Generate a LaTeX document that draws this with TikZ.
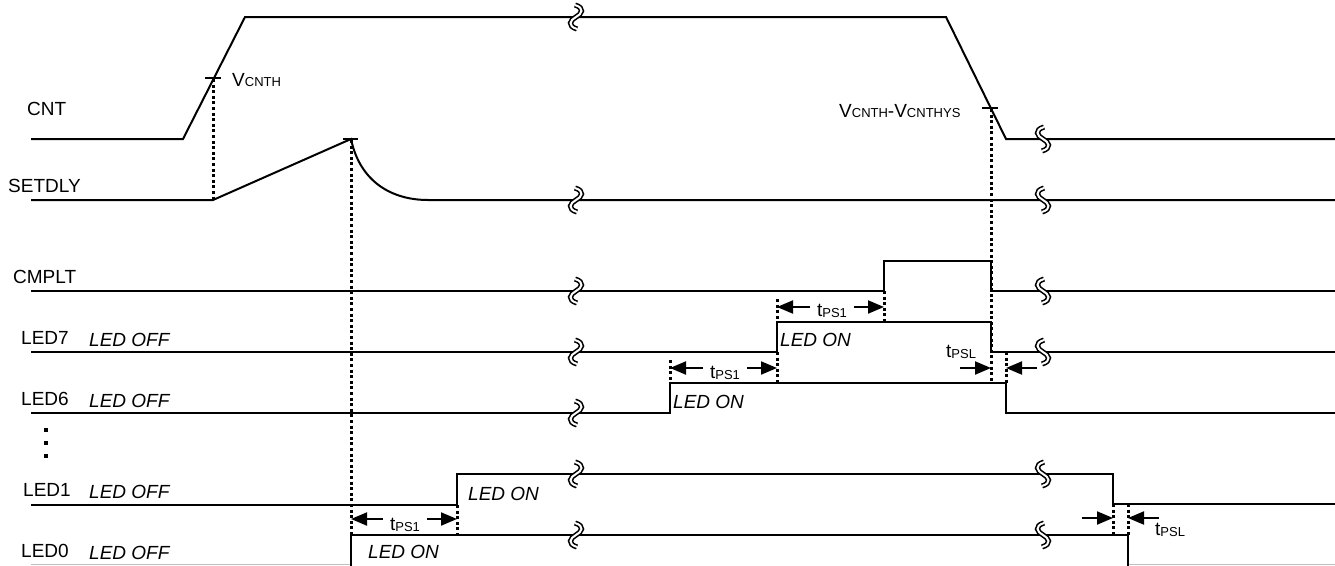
\documentclass[tikz,border=0pt]{standalone}
\usepackage{fontspec}
\setmainfont{Liberation Sans}
\usetikzlibrary{arrows.meta}
\newcommand\mysub[1]{\raisebox{-1.5pt}{\fontsize{13}{13}\selectfont #1}}
\newcommand\mysubL[1]{\raisebox{-1.5pt}{\fontsize{13}{13}\selectfont #1}}
\newcommand\vsub[1]{{\fontsize{13}{13}\selectfont #1}}
\begin{document}
\begin{tikzpicture}[x=1pt,y=-1pt,
 sig/.style={line width=2pt},
 faint/.style={line width=1pt,black!25},
 dotv/.style={line width=3pt,dash pattern=on 3pt off 2.6pt},
 tickln/.style={line width=2pt},
 lbl/.style={anchor=base west,inner sep=0pt,font=\fontsize{19}{19}\selectfont},
 ital/.style={anchor=base west,inner sep=0pt,font=\fontsize{19}{19}\selectfont\itshape},
 vlab/.style={anchor=base west,inner sep=0pt,font=\fontsize{19}{19}\selectfont},
 tlab/.style={anchor=base,inner xsep=7pt,inner ysep=0pt,font=\fontsize{19}{19}\selectfont},
 slab/.style={anchor=base west,inner sep=0pt,font=\fontsize{19}{19}\selectfont},
 tm/.style={line width=2pt,-{Triangle[length=16pt,width=13pt]}},
 brk/.style={line width=1.6pt,double,double distance=2pt},
 pics/brkA/.style={code={\draw[brk] (-1,-12) .. controls (9,-9) and (6,-3) .. (0,0) .. controls (-6,3) and (-9,9) .. (1,12);}},
 pics/brkB/.style={code={\draw[brk] (1,-12) .. controls (-9,-9) and (-6,-3) .. (0,0) .. controls (6,3) and (9,9) .. (-1,12);}},
]
\useasboundingbox (0,0) rectangle (1335,565);

% signals
\draw[sig] (31,139) -- (183,139) -- (245,17) -- (946,17) -- (1006,139) -- (1335,139);
\draw[sig] (31,200) -- (213,200) -- (351,139) .. controls (360,182) and (392,200) .. (428,200) -- (1335,200);
\draw[sig] (31,291) -- (884,291) -- (884,261) -- (991,261) -- (991,291) -- (1335,291);
\draw[sig] (31,352) -- (777,352) -- (777,322) -- (991,322) -- (991,352) -- (1335,352);
\draw[sig] (31,413) -- (670,413) -- (670,383) -- (1006,383) -- (1006,413) -- (1335,413);
\draw[sig] (31,505) -- (457,505) -- (457,474) -- (1113,474) -- (1113,504) -- (1335,504);
\draw[sig] (351,566) -- (351,535) -- (1128,535) -- (1128,566);
\draw[faint] (31,564) -- (350,564);
\draw[faint] (1129,564) -- (1335,564);

% threshold ticks
\draw[tickln] (205,78) -- (221,78);
\draw[tickln] (343,139) -- (358,139);
\draw[tickln] (982,108) -- (998,108);

% dotted markers
\draw[dotv] (213,79) -- (213,200);
\draw[dotv] (351,140) -- (351,535);
\draw[dotv] (991,109) -- (991,383);
\draw[dotv] (777,299) -- (777,322);
\draw[dotv] (884,291) -- (884,322);
\draw[dotv] (670,360) -- (670,383);
\draw[dotv] (777,352) -- (777,383);
\draw[dotv] (457,505) -- (457,535);
\draw[dotv] (1006,352) -- (1006,383);
\draw[dotv] (1113,504) -- (1113,535);
\draw[dotv] (1128,504) -- (1128,535);

% break marks
\foreach \yy in {17,200,291,352,413,474,535} \pic at (576,\yy) {brkA};
\foreach \yy in {139,200,291,352,474,535} \pic at (1043,\yy) {brkB};

% vertical ellipsis
\foreach \yy in {430,443,456} \fill (44,\yy-2) rectangle (48,\yy+2);

% signal labels
\node[lbl] (lcnt) at (27,115) {CNT};
\node[lbl] (lset) at (8,192) {SETDLY};
\node[lbl] (lcmp) at (13,283) {CMPLT};
\node[lbl] (l7) at (21,344) {LED7};
\node[lbl] (l6) at (21,405) {LED6};
\node[lbl] (l1) at (23,496) {LED1};
\node[lbl] (l0) at (21,557) {LED0};
\node[ital] (o7) at (89,346) {LED OFF};
\node[ital] (o6) at (89,407) {LED OFF};
\node[ital] (o1) at (89,498) {LED OFF};
\node[ital] (o0) at (89,559) {LED OFF};
\node[ital] (n7) at (780,346) {LED ON};
\node[ital] (n6) at (673,408) {LED ON};
\node[ital] (n1) at (468,500) {LED ON};
\node[ital] (n0) at (368,558) {LED ON};

% voltage labels
\node[vlab] (vth) at (232,86) {V\vsub{CNTH}};
\node[vlab] (vhys) at (839,117) {V\vsub{CNTH}-V\vsub{CNTHYS}};

% tPS1 intervals
\coordinate (a7l) at (777,307); \coordinate (a7r) at (884,307);
\coordinate (a6l) at (670,368); \coordinate (a6r) at (777,368);
\coordinate (a0l) at (351,519); \coordinate (a0r) at (457,519);
\node[tlab] (p7) at (832,316) {t\mysub{PS1}};
\node[tlab] (p6) at (725,378) {t\mysub{PS1}};
\node[tlab] (p0) at (405,530) {t\mysub{PS1}};
\draw[tm] (p7.west |- a7l) -- (a7l);
\draw[tm] (p7.east |- a7r) -- (a7r);
\draw[tm] (p6.west |- a6l) -- (a6l);
\draw[tm] (p6.east |- a6r) -- (a6r);
\draw[tm] (p0.west |- a0l) -- (a0l);
\draw[tm] (p0.east |- a0r) -- (a0r);

% tPSL intervals
\node[slab] (s1) at (946,357) {t\mysubL{PSL}};
\node[slab] (s2) at (1155,535) {t\mysubL{PSL}};
\coordinate (b1a) at (960,368); \coordinate (b1b) at (991,368);
\coordinate (b1c) at (1037,368); \coordinate (b1d) at (1006,368);
\coordinate (b2a) at (1082,518); \coordinate (b2b) at (1113,518);
\coordinate (b2c) at (1159,518); \coordinate (b2d) at (1128,518);
\draw[tm] (b1a) -- (b1b);
\draw[tm] (b1c) -- (b1d);
\draw[tm] (b2a) -- (b2b);
\draw[tm] (b2c) -- (b2d);
\end{tikzpicture}
\end{document}
